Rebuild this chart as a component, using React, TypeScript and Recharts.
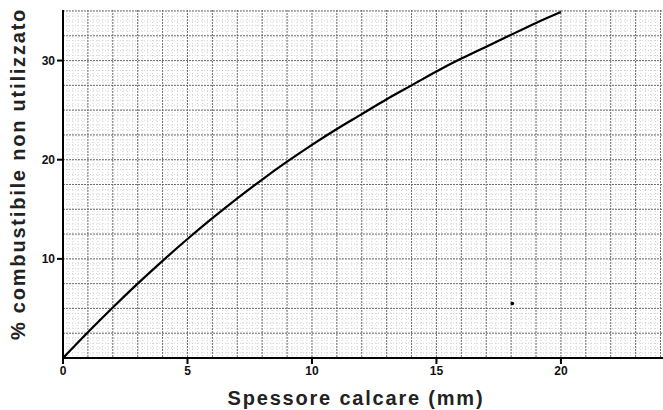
import React from "react";
import {
  CartesianGrid,
  Line,
  LineChart,
  Scatter,
  XAxis,
  YAxis,
} from "recharts";

const thickness = [0, 1, 2, 3, 4, 5, 6, 7, 8, 9, 10, 11, 12, 13, 14, 15, 16, 17, 18, 19, 20];
const unusedFuel = [0, 2.6, 5.1, 7.5, 9.8, 12.0, 14.1, 16.1, 18.0, 19.8, 21.5, 23.1, 24.6, 26.1, 27.5, 28.9, 30.2, 31.4, 32.6, 33.8, 34.9];
const strayMark = [{ x: 18.05, y: 5.5 }];

const xTicks = [0, 5, 10, 15, 20];
const yTicks = [10, 20, 30];

const X_MAX = 24.1;
const Y_MAX = 35.1;

const data = thickness.map((x, i) => ({ x, y: unusedFuel[i] }));

const steps = (step: number, max: number) => {
  const out: number[] = [];
  for (let v = 0; v <= max + 1e-9; v += step) out.push(Math.round(v * 1000) / 1000);
  return out;
};

const minorX = steps(0.2, X_MAX);
const majorX = steps(1, X_MAX);
const minorY = steps(0.5, Y_MAX);
const majorY = steps(2.5, Y_MAX);

const FONT = "Liberation Sans, Arial, sans-serif";
const tickFont = { fontFamily: FONT, fontWeight: 700, fontSize: 12, fill: "#111" };

// grid lines sit on the plot's own linear scale
const xGen = (vals: number[]) => ({ offset }: any) =>
  vals.map((v) => offset.left + (v / X_MAX) * offset.width);
const yGen = (vals: number[]) => ({ offset }: any) =>
  vals.map((v) => offset.top + (1 - v / Y_MAX) * offset.height);

export default function App() {
  return (
    <div style={{ position: "absolute", left: 0, top: 0, background: "#fff" }}>
      <LineChart width={663} height={410} data={data} margin={{ top: 10, right: 0, bottom: 0, left: 0 }}>
        <CartesianGrid
          stroke="#d2d2d2"
          strokeDasharray="1 2"
          verticalCoordinatesGenerator={xGen(minorX)}
          horizontalCoordinatesGenerator={yGen(minorY)}
        />
        <CartesianGrid
          stroke="#707070"
          strokeDasharray="2 1"
          verticalCoordinatesGenerator={xGen(majorX)}
          horizontalCoordinatesGenerator={yGen(majorY)}
        />
        <XAxis
          dataKey="x"
          type="number"
          domain={[0, X_MAX]}
          ticks={xTicks}
          height={52}
          tick={tickFont}
          tickSize={6}
          axisLine={{ stroke: "#000", strokeWidth: 2 }}
          tickLine={{ stroke: "#000", strokeWidth: 2 }}
          label={() => (
            <text x={356} y={405} textAnchor="middle" fontFamily={FONT} fontWeight={700} fontSize={20} fill="#222" letterSpacing={1.8}>
              Spessore calcare (mm)
            </text>
          )}
        />
        <YAxis
          type="number"
          domain={[0, Y_MAX]}
          ticks={yTicks}
          width={63}
          tick={tickFont}
          tickSize={6}
          axisLine={{ stroke: "#000", strokeWidth: 2 }}
          tickLine={{ stroke: "#000", strokeWidth: 2 }}
          label={() => (
            <text
              x={25}
              y={174}
              transform="rotate(-90 25 174)"
              textAnchor="middle"
              fontFamily={FONT}
              fontWeight={700}
              fontSize={20}
              fill="#222"
              letterSpacing={1.8}
            >
              % combustibile non utilizzato
            </text>
          )}
        />
        <Line
          dataKey="y"
          type="natural"
          stroke="#000"
          strokeWidth={2.2}
          dot={false}
          isAnimationActive={false}
        />
        <Scatter
          data={strayMark}
          dataKey="y"
          fill="#000"
          shape={(p: any) => <circle cx={p.cx} cy={p.cy} r={1.8} fill="#000" />}
          isAnimationActive={false}
        />
      </LineChart>
    </div>
  );
}
